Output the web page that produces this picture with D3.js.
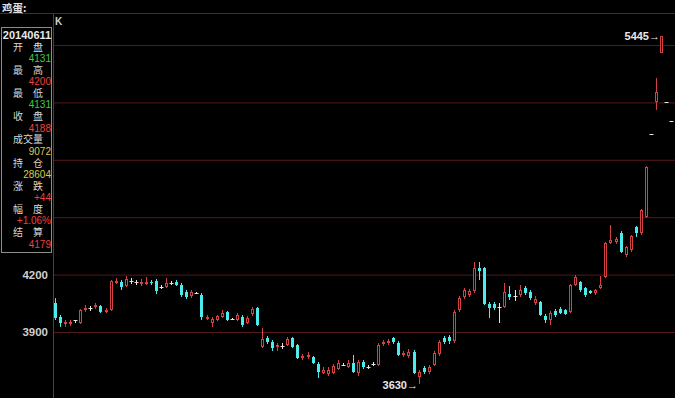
<!DOCTYPE html>
<html><head><meta charset="utf-8">
<script src="https://cdn.jsdelivr.net/npm/d3@7"></script>
<style>html,body{margin:0;padding:0;background:#000;overflow:hidden}svg{display:block}</style>
</head><body><svg id="c" width="675" height="398"></svg>
<script>
const title = "鸡蛋:";
const chartTag = "K";
const openP  = [4052,3978,3942,3947,3963,3947,4015,4025,4031,4036,4005,4015,4162,4162,4141,4167,4162,4151,4151,4162,4167,4135,4135,4156,4162,4146,4109,4088,4104,4093,3968,3947,3963,3978,4005,3968,3963,3978,3947,3994,4025,3822,3869,3848,3822,3827,3832,3869,3832,3764,3769,3769,3733,3686,3681,3686,3707,3728,3717,3738,3686,3743,3717,3733,3728,3837,3843,3869,3843,3780,3775,3796,3665,3712,3691,3728,3785,3869,3874,3853,4015,4083,4093,4114,4234,4234,4046,4046,4031,4031,4099,4088,4093,4130,4109,4052,4057,3984,3963,4010,4020,4015,4005,4146,4162,4130,4114,4104,4130,4188,4365,4370,4417,4302,4329,4449,4417,4501,4935,5102,5358,5102,5003];
const highP  = [4078,3989,3963,3963,3963,4020,4041,4036,4052,4041,4025,4172,4182,4172,4193,4182,4172,4177,4188,4172,4177,4146,4182,4167,4172,4156,4120,4120,4109,4104,3989,3978,3989,4015,4010,3973,3999,3989,3984,4031,4031,3921,3879,3858,3843,3843,3874,3874,3837,3785,3796,3775,3743,3717,3717,3733,3754,3738,3754,3780,3754,3754,3728,3743,3843,3858,3863,3874,3853,3801,3811,3806,3701,3722,3728,3801,3858,3879,3884,4015,4088,4130,4125,4266,4266,4240,4057,4057,4052,4156,4141,4120,4146,4141,4120,4088,4062,3994,4010,4020,4031,4020,4151,4198,4167,4135,4120,4125,4193,4370,4459,4396,4428,4349,4407,4454,4543,4767,4935,5227,5445,5102,5003];
const lowP   = [3963,3926,3926,3931,3947,3942,4005,4010,4020,3999,3999,4010,4151,4120,4135,4151,4146,4141,4146,4146,4099,4125,4130,4146,4141,4083,4073,4078,4099,3963,3963,3926,3957,3973,3957,3963,3957,3926,3942,3984,3931,3816,3837,3801,3801,3811,3827,3816,3759,3754,3759,3733,3660,3681,3670,3681,3701,3722,3712,3686,3670,3707,3707,3722,3722,3827,3832,3837,3775,3769,3764,3681,3630,3681,3681,3722,3775,3837,3837,3843,4005,4073,4083,4104,4172,4041,3973,4015,3947,4025,4067,4062,4083,4093,4067,4041,3984,3947,3937,3978,3994,3989,3999,4141,4109,4083,4099,4093,4125,4182,4360,4360,4313,4292,4318,4396,4407,4496,4935,5060,5358,5102,5003];
const closeP = [3973,3947,3952,3952,3963,4015,4025,4025,4041,4005,4015,4167,4167,4135,4177,4167,4162,4162,4162,4156,4115,4135,4156,4156,4146,4093,4083,4109,4104,3978,3978,3968,3984,3999,3963,3968,3989,3937,3973,4020,3937,3863,3848,3816,3832,3827,3863,3822,3764,3775,3780,3738,3691,3701,3701,3722,3738,3728,3738,3691,3743,3717,3717,3733,3832,3848,3853,3848,3780,3790,3796,3686,3691,3691,3717,3790,3848,3848,3853,4005,4078,4120,4114,4234,4219,4046,4025,4025,4031,4109,4083,4088,4120,4104,4078,4073,3989,3963,3999,3989,3999,3994,4146,4188,4120,4093,4104,4120,4146,4365,4381,4386,4318,4344,4402,4417,4538,4762,4935,5154,5445,5102,5003];
const gridTicks = [3900, 4200, 4500, 4800, 5100, 5400];
const axisLabels = [3900, 4200];
const infoDate = "20140611";
const infoLabels = ["开　盘", "最　高", "最　低", "收　盘", "成交量", "持　仓", "涨　跌", "幅　度", "结　算"];
const infoValues = ["4131", "4200", "4131", "4188", "9072", "28604", "+44", "+1.06%", "4179"];
const infoKinds  = ["down", "up", "down", "up", "vol", "vol", "up", "up", "up"];

const W = 675, H = 398;
const UP = "#d44242", DOWN = "#4cecec", FLAT = "#e6e6e6";
const kindColor = {down: "#3ccc3c", up: "#ee4040", vol: "#d8cc50"};
const numFont = "'Liberation Sans', Arial, sans-serif";
const cjkFont = "'Noto Sans CJK SC', 'Noto Sans', sans-serif";

const svg = d3.select("#c");
svg.append("rect").attr("width", W).attr("height", H).attr("fill", "#000");

const idx = openP.map((_, i) => i);
const data = idx.map(i => ({i, o: openP[i], h: highP[i], l: lowP[i], c: closeP[i]}));

const x = d3.scaleBand().domain(idx).range([52.5, 673.6]).padding(0);
const y = d3.scaleLinear().domain([3900, 5400]).range([332, 45]);

// grid + axis labels
const gAxis = svg.append("g").attr("transform", "translate(53,0)")
  .call(d3.axisLeft(y).tickValues(gridTicks).tickSize(-(W - 53)).tickPadding(5)
        .tickFormat(d => axisLabels.includes(d) ? d : ""));
gAxis.select(".domain").remove();
gAxis.selectAll(".tick line").attr("stroke", "#561a1a");
gAxis.selectAll(".tick text").attr("fill", "#cfcfcf").style("font-family", numFont)
  .style("font-size", "11.5px").style("font-weight", "bold");

// frame lines
svg.append("line").attr("x1", 0).attr("x2", W).attr("y1", 13.5).attr("y2", 13.5).attr("stroke", "#5e2020");
svg.append("line").attr("x1", 53.5).attr("x2", 53.5).attr("y1", 13.5).attr("y2", H).attr("stroke", "#8a2424");

// title
svg.append("text").attr("x", 2).attr("y", 12).attr("fill", "#e0e0e0")
  .style("font-family", cjkFont).style("font-size", "10.5px").style("font-weight", "bold").text(title);
svg.append("text").attr("x", 55).attr("y", 25).attr("fill", "#d0d0d0")
  .style("font-family", numFont).style("font-size", "10px").style("font-weight", "bold").text(chartTag);

// candles
const cg = svg.append("g");
data.forEach(d => {
  const cx = Math.round(x(d.i) + x.bandwidth() / 2);
  const col = d.c > d.o ? UP : (d.c < d.o ? DOWN : FLAT);
  const yh = Math.round(y(d.h)), yl = Math.round(y(d.l));
  const yt = Math.round(y(Math.max(d.o, d.c))), yb = Math.round(y(Math.min(d.o, d.c)));
  if (yl > yh) {
    cg.append("line").attr("x1", cx + 0.5).attr("x2", cx + 0.5).attr("y1", yh).attr("y2", yl).attr("stroke", col);
  }
  if (d.c > d.o) {
    cg.append("rect").attr("x", cx - 0.5).attr("y", yt + 0.5).attr("width", 2).attr("height", Math.max(1, yb - yt - 1))
      .attr("fill", "#000").attr("stroke", col);
  } else if (d.c < d.o) {
    cg.append("rect").attr("x", cx - 1).attr("y", yt).attr("width", 3).attr("height", Math.max(1, yb - yt)).attr("fill", col);
  } else {
    cg.append("line").attr("x1", cx - 1.5).attr("x2", cx + 2.5).attr("y1", yt + 0.5).attr("y2", yt + 0.5).attr("stroke", col);
  }
});

// max / min annotations
const iMax = d3.maxIndex(highP), iMin = d3.minIndex(lowP);
svg.append("text").attr("x", Math.round(x(iMax) + x.bandwidth() / 2) - 1).attr("y", y(highP[iMax]) + 4)
  .attr("text-anchor", "end").attr("fill", "#e8e8e8").style("font-family", numFont)
  .style("font-size", "11px").style("font-weight", "bold").text(highP[iMax] + "→");
svg.append("text").attr("x", Math.round(x(iMin) + x.bandwidth() / 2) - 1).attr("y", y(lowP[iMin]) + 5)
  .attr("text-anchor", "end").attr("fill", "#e8e8e8").style("font-family", numFont)
  .style("font-size", "11px").style("font-weight", "bold").text(lowP[iMin] + "→");

// info panel
const pg = svg.append("g");
pg.append("rect").attr("x", 1.5).attr("y", 27.5).attr("width", 50).attr("height", 225)
  .attr("fill", "#000").attr("stroke", "#8c8c8c");
pg.append("text").attr("x", 27).attr("y", 39).attr("text-anchor", "middle").attr("fill", "#e8e8e8")
  .style("font-family", numFont).style("font-size", "11px").style("font-weight", "bold").text(infoDate);
infoLabels.forEach((lab, k) => {
  const ly = 47 + 23.2 * k;
  pg.append("text").attr("x", 28).attr("y", ly + 3.5).attr("text-anchor", "middle").attr("fill", "#d8d8d8")
    .style("font-family", cjkFont).style("font-size", "10px").text(lab);
  pg.append("text").attr("x", 51).attr("y", ly + 15).attr("text-anchor", "end").attr("fill", kindColor[infoKinds[k]])
    .style("font-family", numFont).style("font-size", "10px").text(infoValues[k]);
});
</script></body></html>
